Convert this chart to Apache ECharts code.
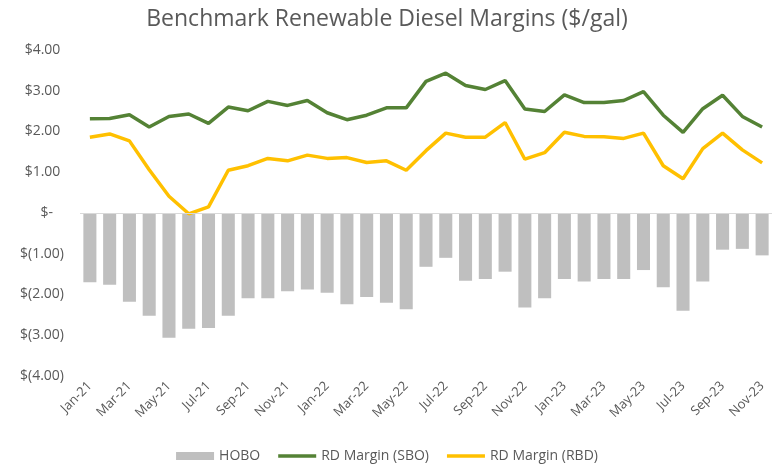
<!DOCTYPE html>
<html>
<head>
<meta charset="utf-8">
<script src="https://cdn.jsdelivr.net/npm/echarts@6/dist/echarts.min.js"></script>
<style>
  html, body { margin: 0; padding: 0; background: #fff; }
  #chart { width: 774px; height: 468px; }
</style>
</head>
<body>
<div id="chart"></div>
<script>
// months Jan-21 .. Nov-23
const months = [
  'Jan-21', 'Feb-21', 'Mar-21', 'Apr-21', 'May-21', 'Jun-21', 'Jul-21', 'Aug-21', 'Sep-21', 'Oct-21', 'Nov-21', 'Dec-21',
  'Jan-22', 'Feb-22', 'Mar-22', 'Apr-22', 'May-22', 'Jun-22', 'Jul-22', 'Aug-22', 'Sep-22', 'Oct-22', 'Nov-22', 'Dec-22',
  'Jan-23', 'Feb-23', 'Mar-23', 'Apr-23', 'May-23', 'Jun-23', 'Jul-23', 'Aug-23', 'Sep-23', 'Oct-23', 'Nov-23'
];
const hobo = [
  -1.70, -1.76, -2.18, -2.52, -3.06, -2.84, -2.82, -2.52, -2.09, -2.09, -1.92, -1.88,
  -1.96, -2.24, -2.06, -2.20, -2.36, -1.32, -1.10, -1.66, -1.62, -1.44, -2.32, -2.09,
  -1.62, -1.68, -1.62, -1.62, -1.40, -1.82, -2.40, -1.68, -0.90, -0.88, -1.04
];
const sboMargin = [
  2.31, 2.32, 2.41, 2.11, 2.37, 2.43, 2.20, 2.60, 2.51, 2.74, 2.64, 2.76,
  2.46, 2.29, 2.40, 2.58, 2.58, 3.23, 3.43, 3.13, 3.03, 3.25, 2.55, 2.49,
  2.90, 2.71, 2.71, 2.76, 2.98, 2.40, 1.98, 2.56, 2.89, 2.37, 2.11
];
const rbdMargin = [
  1.86, 1.94, 1.77, 1.06, 0.41, -0.02, 0.15, 1.05, 1.16, 1.34, 1.28, 1.42,
  1.34, 1.36, 1.24, 1.28, 1.05, 1.53, 1.96, 1.86, 1.86, 2.22, 1.32, 1.48,
  1.98, 1.88, 1.87, 1.83, 1.96, 1.16, 0.84, 1.58, 1.96, 1.55, 1.23
];

const font = 'Open Sans';
const textColor = '#595959';
// thin line icon for the legend (invisible points keep the box 8px tall)
const lineIcon = 'path://M0,0 L0,0 M0,2.2 L40,2.2 L40,5.8 L0,5.8 Z M0,8 L0,8';

function money(v) {
  if (v === 0) return '$-   ';
  if (v < 0) return '$(' + Math.abs(v).toFixed(2) + ')';
  return '$' + v.toFixed(2) + ' ';
}

const myChart = echarts.init(document.getElementById('chart'));
const option = {
  backgroundColor: '#fff',
  animation: false,
  title: {
    text: 'Benchmark Renewable Diesel Margins ($/gal)',
    left: 'center',
    top: 3,
    textStyle: { fontFamily: font, fontSize: 23, fontWeight: 'normal', color: textColor }
  },
  legend: {
    bottom: 0,
    left: 'center',
    itemWidth: 38,
    itemHeight: 8,
    itemGap: 18,
    textStyle: { fontFamily: font, fontSize: 14, color: textColor },
    data: [
      { name: 'HOBO', icon: 'rect' },
      { name: 'RD Margin (SBO)', icon: lineIcon },
      { name: 'RD Margin (RBD)', icon: lineIcon }
    ]
  },
  grid: { left: 80, right: 2, top: 50, bottom: 92 },
  xAxis: {
    type: 'category',
    data: months,
    axisLine: { onZero: false, show: false },
    axisTick: { show: false },
    axisLabel: {
      interval: 1,
      rotate: 45,
      margin: 8,
      fontFamily: font,
      fontSize: 13,
      color: textColor
    }
  },
  yAxis: {
    type: 'value',
    min: -4,
    max: 4,
    interval: 1,
    splitLine: { show: false },
    axisLine: { show: false },
    axisTick: { show: false },
    axisLabel: {
      margin: 16,
      fontFamily: font,
      fontSize: 14,
      color: textColor,
      formatter: money
    }
  },
  series: [
    {
      name: 'HOBO',
      type: 'bar',
      data: hobo,
      barCategoryGap: '34%',
      itemStyle: { color: '#BFBFBF' },
      markLine: {
        silent: true,
        symbol: 'none',
        label: { show: false },
        lineStyle: { color: '#D9D9D9', type: 'solid', width: 1 },
        data: [{ yAxis: 0 }]
      }
    },
    {
      name: 'RD Margin (SBO)',
      type: 'line',
      data: sboMargin,
      symbol: 'none',
      lineStyle: { color: '#548235', width: 3.5 },
      itemStyle: { color: '#548235' },
      z: 3
    },
    {
      name: 'RD Margin (RBD)',
      type: 'line',
      data: rbdMargin,
      symbol: 'none',
      lineStyle: { color: '#FFC000', width: 3.5 },
      itemStyle: { color: '#FFC000' },
      z: 3
    }
  ]
};
myChart.setOption(option);
</script>
</body>
</html>
